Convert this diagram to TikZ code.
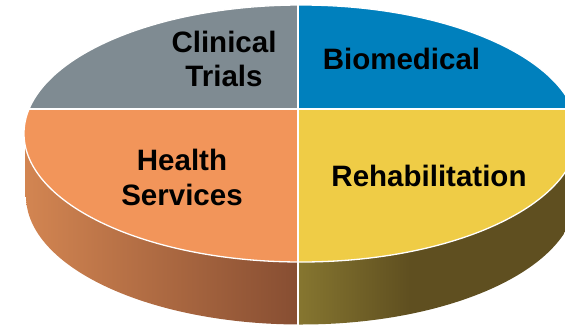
\documentclass[tikz,border=0pt]{standalone}
\usepackage{fontspec}
\setmainfont{Liberation Sans}
\definecolor{grayC}{RGB}{127,139,146}
\definecolor{blueC}{RGB}{0,128,189}
\definecolor{orangeC}{RGB}{242,149,90}
\definecolor{yellowC}{RGB}{239,204,70}
\definecolor{sideOL}{RGB}{212,134,82}
\definecolor{sideOR}{RGB}{135,78,50}
\definecolor{sideYL}{RGB}{134,118,48}
\definecolor{sideYR}{RGB}{95,79,32}
\begin{document}
\begin{tikzpicture}[x=1pt,y=-1pt,
  lbl/.style={font=\fontsize{29.5}{34.5}\selectfont\bfseries, align=center, inner sep=0pt, text=black},
  divider/.style={white, line width=1.6pt}]
\useasboundingbox (0,0) rectangle (565,327);
\clip (0,0) rectangle (565,327);
\coordinate (T) at (301,133.5);
\coordinate (B) at (301,196);
% side wall
\foreach \cl in {1,2}{
\begin{scope}
  \ifnum\cl=1
    \clip (B) ellipse [x radius=275pt, y radius=128.5pt];
  \else
    \clip (25,133.5) rectangle (577,196);
  \fi
  \shade[left color=sideOL, right color=sideOR] (20,100) rectangle (298,330);
  \shade[left color=sideYL, right color=sideYR] (298,100) rectangle (410,330);
  \fill[sideYR] (409.5,100) rectangle (580,330);
\end{scope}}
% top face
\begin{scope}
  \clip (T) ellipse [x radius=277pt, y radius=128.5pt];
  \fill[grayC] (0,0) rectangle (298,109);
  \fill[blueC] (298,0) rectangle (580,109);
  \fill[orangeC] (0,109) rectangle (298,330);
  \fill[yellowC] (298,109) rectangle (580,330);
\end{scope}
\draw[white, line width=1.3pt] (T) ellipse [x radius=277pt, y radius=128.5pt];
\draw[divider] (298,0) -- (298,327);
\draw[divider] (0,109) -- (565,109);
% labels
\node[lbl] (clin) at (224,59) {Clinical\\Trials};
\node[lbl, anchor=base] (bio) at (401.5,69) {Biomedical};
\node[lbl] (hs) at (182,177.5) {Health\\Services};
\node[lbl, anchor=base] (reh) at (429,186) {Rehabilitation};
\end{tikzpicture}
\end{document}
